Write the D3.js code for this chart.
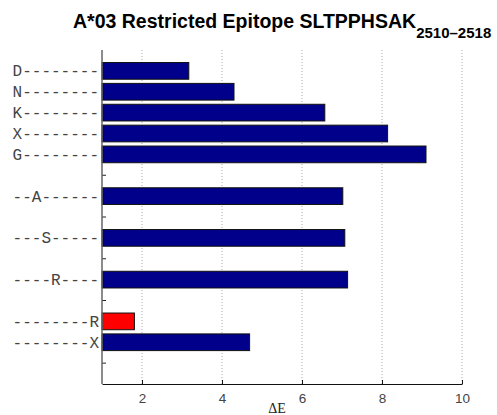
<!DOCTYPE html>
<html>
<head>
<meta charset="utf-8">
<script src="https://cdn.jsdelivr.net/npm/d3@7"></script>
<style>
  body { margin: 0; background: #fff; }
  svg { display: block; }
</style>
</head>
<body>
<svg id="chart" width="497" height="415"></svg>
<script>
// Mutation labels, top to bottom; empty slots are spacer rows
const rowLabels = ["D--------", "N--------", "K--------", "X--------", "G--------", "",
                   "--A------", "", "---S-----", "", "----R----", "", "--------R", "--------X", ""];
const deltaE = [3.17, 4.3, 6.57, 8.14, 9.1, null, 7.02, null, 7.07, null, 7.14, null, 1.81, 4.69, null];
const highlighted = [false, false, false, false, false, false, false, false, false, false, false, false, true, false, false];
const xTicks = [2, 4, 6, 8, 10];

const svg = d3.select("#chart");
const plot = { left: 102, right: 462, top: 50, bottom: 384 };

const x = d3.scaleLinear().domain([1, 10]).range([plot.left, plot.right]);
const y = d3.scaleLinear().domain([0, rowLabels.length + 1]).range([plot.top, plot.bottom]);
const barH = (y(1) - y(0)) * 0.8;

// Dotted vertical grid
svg.append("g").selectAll("line").data(xTicks).join("line")
  .attr("x1", d => x(d)).attr("x2", d => x(d))
  .attr("y1", plot.top).attr("y2", plot.bottom)
  .attr("stroke", "#aaa").attr("stroke-width", 1)
  .attr("stroke-dasharray", "1,2");

// Inward y ticks at every row (bars cover the ones on labeled rows)
const rows = d3.range(1, rowLabels.length + 1);
svg.append("g").selectAll("line").data(rows).join("line")
  .attr("x1", plot.left).attr("x2", plot.left + 4)
  .attr("y1", d => y(d)).attr("y2", d => y(d))
  .attr("stroke", "#222");

// Bars
const barData = deltaE.map((v, i) => ({ v, row: i + 1, hi: highlighted[i] })).filter(d => d.v !== null);
svg.append("g").selectAll("rect").data(barData).join("rect")
  .attr("x", x(1))
  .attr("y", d => y(d.row) - barH / 2)
  .attr("width", d => x(d.v) - x(1))
  .attr("height", barH)
  .attr("fill", d => d.hi ? "#ff0000" : "#00008b")
  .attr("stroke", "#111").attr("stroke-width", 1);

// Row labels
svg.append("g").selectAll("text").data(rowLabels.map((t, i) => ({ t, row: i + 1 })).filter(d => d.t)).join("text")
  .attr("x", plot.left - 3)
  .attr("y", d => y(d.row))
  .attr("dy", "0.35em")
  .attr("text-anchor", "end")
  .attr("font-family", "'Liberation Mono', 'DejaVu Sans Mono', monospace")
  .attr("font-size", 16)
  .attr("fill", "#444")
  .text(d => d.t);

// Left axis line
svg.append("line").attr("x1", plot.left).attr("x2", plot.left).attr("y1", plot.top).attr("y2", plot.bottom)
  .attr("stroke", "#666").attr("stroke-width", 1.5);

// Bottom axis with inward ticks
const xAxis = d3.axisBottom(x).tickValues(xTicks).tickSizeInner(-4).tickSizeOuter(0).tickPadding(9);
const gx = svg.append("g").attr("transform", `translate(0,${plot.bottom})`).call(xAxis);
gx.select(".domain").attr("stroke", "#111").attr("stroke-width", 1.2);
gx.selectAll(".tick line").attr("stroke", "#111");
gx.selectAll(".tick text")
  .attr("font-family", "'Liberation Sans', Arial, sans-serif")
  .attr("font-size", 13.5)
  .attr("fill", "#444");

// Axis title
svg.append("text")
  .attr("x", 277).attr("y", 413)
  .attr("text-anchor", "middle")
  .attr("font-family", "'Liberation Serif', 'Times New Roman', serif")
  .attr("font-size", 14)
  .attr("fill", "#222")
  .text("ΔE");

// Chart title with subscript
const title = svg.append("text")
  .attr("x", 73).attr("y", 28)
  .attr("text-anchor", "start")
  .attr("font-family", "'Liberation Sans', Arial, sans-serif")
  .attr("font-weight", "bold")
  .attr("font-size", 19.5)
  .attr("fill", "#000");
title.append("tspan").text("A*03 Restricted Epitope SLTPPHSAK");
title.append("tspan").attr("dy", 10).attr("font-size", 15).text("2510\u20132518");
</script>
</body>
</html>
